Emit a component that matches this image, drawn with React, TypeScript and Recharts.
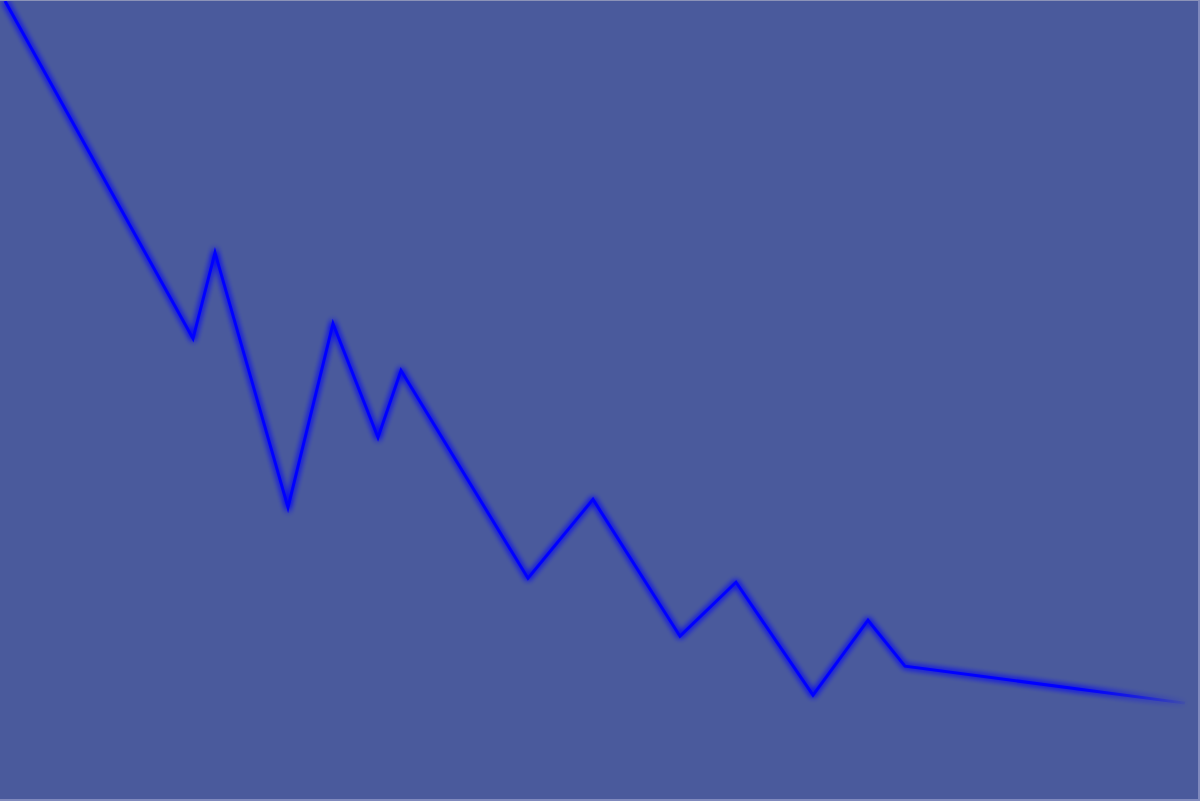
import { LineChart, Line, XAxis, YAxis } from "recharts";

const xs = [5, 193, 215, 288, 333, 378, 401, 528, 593, 680, 736, 813, 868, 905, 1185];
const ys = [799, 461, 547, 292, 476, 362, 429, 221, 300, 163, 217, 104, 179, 133, 96];

const data = xs.map((x, i) => ({ x, y: ys[i] }));

export default function App() {
  return (
    <div
      style={{
        position: "absolute",
        top: 0,
        left: 0,
        width: 1200,
        height: 801,
        boxSizing: "border-box",
        background: "#4a5a9c",
        borderTop: "1px solid #8c93b8",
        borderRight: "2px solid #7f89bd",
        borderBottom: "2px solid #7f89bd",
      }}
    >
      <LineChart
        width={1198}
        height={798}
        data={data}
        margin={{ top: 0, right: 0, bottom: 0, left: 0 }}
      >
        <defs>
          <filter id="glow" x="-5%" y="-5%" width="110%" height="110%">
            <feGaussianBlur in="SourceGraphic" stdDeviation="3" result="blur" />
            <feMerge>
              <feMergeNode in="blur" />
              <feMergeNode in="blur" />
              <feMergeNode in="SourceGraphic" />
            </feMerge>
          </filter>
          <linearGradient id="fade" x1="0" y1="0" x2="1" y2="0">
            <stop offset="0%" stopColor="#0000ff" stopOpacity={1} />
            <stop offset="91%" stopColor="#0000ff" stopOpacity={1} />
            <stop offset="100%" stopColor="#0000ff" stopOpacity={0.08} />
          </linearGradient>
        </defs>
        <XAxis dataKey="x" type="number" domain={[0, 1198]} hide />
        <YAxis type="number" domain={[0, 798]} hide />
        <Line
          type="linear"
          dataKey="y"
          stroke="url(#fade)"
          strokeWidth={3}
          dot={false}
          activeDot={false}
          filter="url(#glow)"
          isAnimationActive={false}
        />
      </LineChart>
    </div>
  );
}
